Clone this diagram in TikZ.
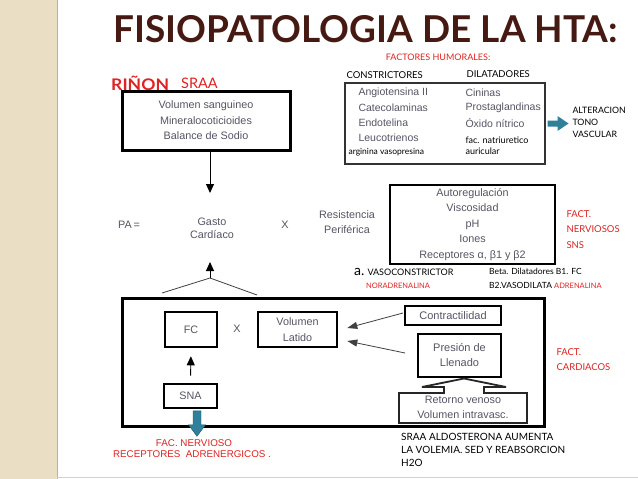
\documentclass[tikz,border=0pt]{standalone}
\usepackage{fontspec}
\setmainfont{Lato}
\newfontfamily\arial{Liberation Sans}
\usetikzlibrary{arrows.meta,calc}
\definecolor{redt}{RGB}{224,34,34}
\definecolor{gtx}{RGB}{88,84,100}
\definecolor{brn}{RGB}{70,26,18}
\definecolor{tealc}{RGB}{46,128,155}
\definecolor{beige}{RGB}{234,222,196}
\begin{document}
\begin{tikzpicture}[x=1pt,y=-1pt,
  bx/.style={draw=black, line width=2.6pt, inner sep=0pt, align=center},
  atx/.style={font=\arial\fontsize{10.8}{15.5}\selectfont, text=gtx, align=center},
  gl/.style={font=\fontsize{9.5}{12}\selectfont, text=black, align=left},
  rd/.style={font=\fontsize{9.5}{15.5}\selectfont, text=redt, align=left},
  arr/.style={line width=0.9pt, -{Triangle[length=9pt,width=8pt]}},
  ln/.style={line width=0.8pt, draw=black!75},
]
\useasboundingbox (0,0) rectangle (638,479);
\fill[white] (0,0) rectangle (638,479);
\fill[beige] (0,0) rectangle (57,479);
\draw[beige!80!black, line width=1pt] (57,0) -- (57,479);
\draw[black!18, line width=1.5pt] (57,477.5) -- (638,477.5);

% title
\node[font=\bfseries\fontsize{37}{37}\selectfont, text=brn, anchor=west, inner sep=0pt] (title) at (113,29) {FISIOPATOLOGIA DE LA HTA:};

\node[font=\fontsize{9}{10}\selectfont, text=redt] (fh) at (438,57) {FACTORES HUMORALES:};
\node[font=\bfseries\fontsize{16}{16}\selectfont, text=redt, anchor=west, inner sep=0pt] (rin) at (111,83) {\scalebox{1.1}[1]{RIÑON}};
\node[font=\fontsize{14.5}{15}\selectfont, text=redt, anchor=west, inner sep=0pt] (sraa) at (181,83) {SRAA};

% rinon box
\node[bx, atx, line width=3pt, minimum width=168pt, minimum height=59pt] (rinon) at (206,120.5) {Volumen sanguineo\\Mineralocoticioides\\Balance de Sodio};

% humoral box
\node[gl, anchor=west] (cons) at (343,75) {CONSTRICTORES};
\node[gl, anchor=west] (dil) at (463,74) {DILATADORES};
\node[draw=black!80, line width=2pt, minimum width=200pt, minimum height=81pt, inner sep=0pt] (hum) at (445,123.5) {};
\node[atx, font=\arial\fontsize{10.5}{12}\selectfont, anchor=west] (h1) at (355,93) {Angiotensina II};
\node[atx, font=\arial\fontsize{10.5}{12}\selectfont, anchor=west] (h2) at (355,108) {Catecolaminas};
\node[atx, font=\arial\fontsize{10.5}{12}\selectfont, anchor=west] (h3) at (355,123) {Endotelina};
\node[atx, font=\arial\fontsize{10.5}{12}\selectfont, anchor=west] (h4) at (355,138) {Leucotrienos};
\node[gl, font=\fontsize{8.5}{10}\selectfont, anchor=west] (h5) at (345,152) {arginina vasopresina};
\node[atx, font=\arial\fontsize{10.5}{12}\selectfont, anchor=west] (d1) at (462,93) {Cininas};
\node[atx, font=\arial\fontsize{10.5}{12}\selectfont, anchor=west] (d2) at (462,108) {Prostaglandinas};
\node[atx, font=\arial\fontsize{10.5}{12}\selectfont, anchor=west] (d3) at (462,123) {Óxido nítrico};
\node[gl, font=\fontsize{9}{10}\selectfont, anchor=west] (d4) at (462,140) {fac. natriuretico};
\node[gl, font=\fontsize{9}{10}\selectfont, anchor=west] (d5) at (462,151) {auricular};
\fill[tealc] (hum.east) ++(1.5,-3) -- ++(10,0) -- ++(0,-4.5) -- ++(11,7.5) -- ++(-11,7.5) -- ++(0,-4.5) -- ++(-10,0) -- cycle;
\node[gl, font=\fontsize{8.8}{12}\selectfont, anchor=west] (alt) at (569,122) {ALTERACION\\TONO\\VASCULAR};

% PA line
\node[atx] (pa) at (129,225) {PA\,=};
\node[atx, font=\arial\fontsize{10.8}{13.5}\selectfont] (gasto) at (212,228.5) {Gasto\\Cardíaco};
\node[atx] (x1) at (285,225) {X};
\node[atx, font=\arial\fontsize{10.8}{15}\selectfont] (res) at (347,222.5) {Resistencia\\Periférica};

\coordinate (a1) at (210,193);
\draw[arr] (rinon.south -| a1) -- (a1);

% resistance box
\node[bx, atx, line width=2.4pt, minimum width=165pt, minimum height=79pt] (rp) at (472.5,224.5) {Autoregulación\\Viscosidad\\pH\\Iones\\Receptores α, β1 y β2};
\node[rd, anchor=west] (fn) at (563,229.5) {FACT.\\NERVIOSOS\\SNS};

\node[font=\fontsize{9}{10}\selectfont, anchor=west, inner sep=0pt] (vc) at (354,272) {{\fontsize{14}{14}\selectfont a.} VASOCONSTRICTOR};
\node[font=\fontsize{7.5}{9}\selectfont, text=redt, anchor=west, inner sep=0pt] (nor) at (366,286) {NORADRENALINA};
\node[font=\fontsize{8.5}{10}\selectfont, anchor=west, inner sep=0pt] (beta) at (489,271) {Beta. Dilatadores B1. FC};
\node[font=\fontsize{8.5}{10}\selectfont, anchor=west, inner sep=0pt] (b2) at (489,285) {B2.VASODILATA \textcolor{redt}{\fontsize{7.5}{9}\selectfont ADRENALINA}};

% up arrow and branches
\coordinate (apex) at (210,278);
\coordinate (a2) at (210,262);
\coordinate (bl) at (162,293);
\coordinate (br) at (257,295);
\draw[arr] (apex) -- (a2);
\draw[ln] (bl) -- (apex) -- (br);

% big box
\node[bx, line width=3pt, minimum width=422pt, minimum height=128pt] (gc) at (333,362) {};
\node[bx, atx, minimum width=52pt, minimum height=35pt] (fc) at (191,329.5) {FC};
\node[atx] (x2) at (237,329) {X};
\node[bx, atx, minimum width=79pt, minimum height=35pt] (vl) at (297.5,329.5) {Volumen\\Latido};
\node[bx, atx, minimum width=53pt, minimum height=24pt] (sna) at (190.5,396) {SNA};
\draw[arr, shorten <=7pt, shorten >=8pt] (sna.north) -- (fc.south);
\fill[tealc, draw=tealc!70!black, line width=0.4pt] ($(sna.south)+(2.5,1.5)$) -- ++(8,0) -- ++(0,14) -- ++(4.5,0) -- ++(-8.5,11.5) -- ++(-8.5,-11.5) -- ++(4.5,0) -- cycle;

\node[bx, atx, font=\arial\fontsize{11}{13}\selectfont, minimum width=96pt, minimum height=19pt] (con) at (453,315.5) {Contractilidad};
\node[bx, atx, font=\arial\fontsize{11}{15}\selectfont, minimum width=83pt, minimum height=43pt] (pre) at (459.5,355.5) {Presión de\\Llenado};
\coordinate (l1s) at (403,313);
\coordinate (l2s) at (405,353);
\draw[ln, -{Triangle[length=10pt,width=7pt]}] (l1s) -- ($(vl.east)+(9,-1.5)$);
\draw[ln, -{Triangle[length=10pt,width=7pt]}] (l2s) -- ($(vl.east)+(9,11.5)$);

% retorno venoso
\draw[line width=1.8pt, draw=black!85, line join=miter] (399,393) -- (444,393) -- (444,387) -- (422,387) -- (464,378.5) -- (506,387) -- (484,387) -- (484,393) -- (527,393) -- (527,423) -- (399,423) -- cycle;
\node[atx, font=\arial\fontsize{10.8}{15}\selectfont] (ret) at (463,407) {Retorno venoso\\Volumen intravasc.};

\node[rd, font=\fontsize{9.5}{15}\selectfont, anchor=west] (fcar) at (553,359.5) {FACT.\\CARDIACOS};

% bottom texts
\node[font=\arial\fontsize{9.8}{10}\selectfont, text=redt] (fnv) at (194,443) {FAC. NERVIOSO};
\node[font=\arial\fontsize{9.8}{10}\selectfont, text=redt] (rec) at (192,454) {RECEPTORES\ \ ADRENERGICOS .};
\node[font=\fontsize{10}{13}\selectfont, anchor=west, align=left, inner sep=0pt] (sr) at (401,450) {SRAA ALDOSTERONA AUMENTA\\LA VOLEMIA. SED Y REABSORCION\\H2O};
\end{tikzpicture}
\end{document}
